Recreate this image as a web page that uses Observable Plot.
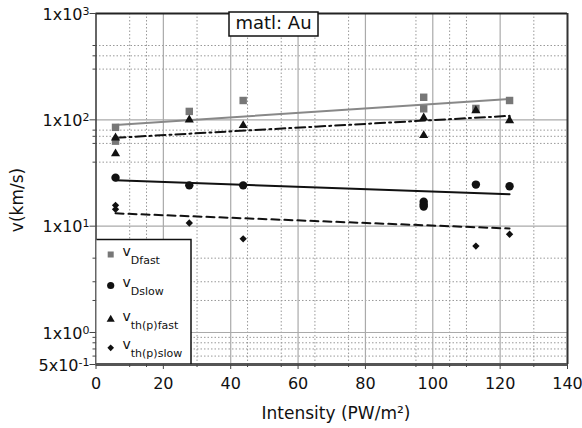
<!DOCTYPE html>
<html><head><meta charset="utf-8">
<script src="https://cdn.jsdelivr.net/npm/d3@7"></script>
<script src="https://cdn.jsdelivr.net/npm/@observablehq/plot@0.6"></script>
<style>body{margin:0;background:#fff} #chart{width:582px;height:428px}</style>
</head><body><div id="chart"></div>
<script>
const FONT = "DejaVu Sans, Verdana, sans-serif";

const xTicks = [0, 20, 40, 60, 80, 100, 120, 140];
const xGridMajor = [20, 40, 60, 80, 100, 120];
const xGridMinor = [10, 15, 30, 45, 55, 65, 75, 95, 105, 110, 130];
const yTicks = [0.5, 1, 10, 100, 1000];
const yTickLabels = ["5x10^-1", "1x10^0", "1x10^1", "1x10^2", "1x10^3"];
const yGridMajor = [1, 10, 100];
const yGridMinor = [0.6, 0.7, 0.8, 0.9, 2, 3, 5, 40, 60, 70, 80, 300, 400, 500];

const dFastX = [5.8, 5.8, 27.7, 43.7, 97.3, 97.3, 112.8, 122.8];
const dFastV = [85, 63, 120, 152, 163, 127, 128, 152];
const dSlowX = [5.8, 27.7, 43.7, 97.3, 97.3, 97.3, 112.8, 122.8];
const dSlowV = [28.6, 24.2, 24.2, 17, 16, 15.3, 24.6, 23.7];
const thFastX = [5.8, 5.8, 27.7, 43.7, 97.3, 97.3, 112.8, 122.8];
const thFastV = [67.8, 48, 100, 88.5, 104.5, 71.3, 122, 98.5];
const thSlowX = [5.8, 5.8, 27.7, 43.7, 112.8, 122.8];
const thSlowV = [15.7, 14.4, 10.7, 7.6, 6.5, 8.4];

const fitX = [5.8, 122.8];
const fitDFast = [89.6, 157];
const fitDSlow = [27, 20];
const fitThSlow = [13.2, 9.5];
const fitThFastX = [5.8, 122.8, 122.8];
const fitThFastV = [67.8, 109, 99];

const legendLabels = ["Dfast", "Dslow", "th(p)fast", "th(p)slow"];
const titleText = "matl: Au";
const xLabel = "Intensity (PW/m²)";
const yLabel = "v(km/s)";

const pts = (xs, vs) => xs.map((x, i) => ({x, v: vs[i]}));

const chart = Plot.plot({
  width: 582, height: 428,
  marginLeft: 95.5, marginRight: 15, marginTop: 13, marginBottom: 64,
  style: {fontFamily: FONT, fontSize: "16px", color: "#111", background: "white"},
  x: {domain: [0, 140]},
  y: {type: "log", domain: [0.5, 1000]},
  marks: [
    Plot.ruleX(xGridMinor, {stroke: "#999", strokeWidth: 1, strokeDasharray: "1.5,2"}),
    Plot.ruleY(yGridMinor, {stroke: "#999", strokeWidth: 1, strokeDasharray: "1.5,2"}),
    Plot.ruleX(xGridMajor, {stroke: "#aaa", strokeWidth: 1.2}),
    Plot.ruleY(yGridMajor, {stroke: "#aaa", strokeWidth: 1.2}),
    Plot.line(pts(fitX, fitDFast), {x: "x", y: "v", stroke: "#888", strokeWidth: 2}),
    Plot.line(pts(fitX, fitDSlow), {x: "x", y: "v", stroke: "#111", strokeWidth: 2}),
    Plot.line(pts(fitX, fitThSlow), {x: "x", y: "v", stroke: "#111", strokeWidth: 2, strokeDasharray: "8,5"}),
    Plot.line(pts(fitThFastX, fitThFastV), {x: "x", y: "v", stroke: "#111", strokeWidth: 2, strokeDasharray: "10,4,2,4"}),
    Plot.dot(pts(dFastX, dFastV), {x: "x", y: "v", symbol: "square", r: 4.2, fill: "#777", stroke: "none"}),
    Plot.dot(pts(dSlowX, dSlowV), {x: "x", y: "v", symbol: "circle", r: 4.2, fill: "#111", stroke: "none"}),
    Plot.dot(pts(thFastX, thFastV), {x: "x", y: "v", symbol: "triangle", r: 3.4, fill: "#111", stroke: "none"}),
    Plot.dot(pts(thSlowX, thSlowV), {x: "x", y: "v", symbol: "diamond2", r: 3.3, fill: "#111", stroke: "none"}),
    Plot.ruleY([1000], {stroke: "#222", strokeWidth: 2}),
    Plot.ruleX([140], {stroke: "#333", strokeWidth: 2}),
    Plot.ruleX([0], {stroke: "#333", strokeWidth: 1.5}),
    Plot.ruleY([0.5], {stroke: "#555", strokeWidth: 3}),
    Plot.axisX(xTicks, {tickSize: 5, tickPadding: 8, fontSize: 16, label: null, stroke: "#444", fill: "#111"}),
    Plot.axisX(xGridMinor, {tickSize: 3, tickFormat: () => "", label: null, stroke: "#444"}),
    Plot.axisY(yTicks, {tickSize: 6, tickFormat: () => "", label: null, stroke: "#444"}),
    Plot.axisY(yGridMinor, {tickSize: 3, tickFormat: () => "", label: null, stroke: "#444"}),
    Plot.text(yTicks, {x: () => 0, y: (d) => d, text: (d) => yTickLabels[yTicks.indexOf(d)],
      textAnchor: "end", dx: -6.5, dy: 1, fontSize: 16, fill: "#111"})
  ]
});
document.getElementById("chart").appendChild(chart);

const svg = d3.select(chart);
// superscripts on y tick labels
svg.selectAll("text").each(function () {
  const s = this.textContent;
  if (!s.includes("^")) return;
  const [b, e] = s.split("^");
  const t = d3.select(this);
  t.text(null);
  t.append("tspan").text(b);
  t.append("tspan").attr("dy", "-0.45em").attr("font-size", "11px").text(e);
});

const over = svg.append("g").attr("text-anchor", "start");
// title box
over.append("rect").attr("x", 229).attr("y", 12).attr("width", 89).attr("height", 24)
  .attr("fill", "white").attr("stroke", "#111").attr("stroke-width", 1.5);
over.append("text").attr("x", 273.5).attr("y", 28.5).attr("text-anchor", "middle")
  .attr("font-family", FONT).attr("font-size", 18).attr("fill", "#111").text(titleText);

// legend
const L = {x: 96.5, y: 239.5, w: 94.5, h: 123.5};
over.append("rect").attr("x", L.x).attr("y", L.y).attr("width", L.w).attr("height", L.h).attr("fill", "white");
over.append("path").attr("d", `M${L.x},${L.y}H${L.x + L.w}V${L.y + L.h + 1}`)
  .attr("fill", "none").attr("stroke", "#111").attr("stroke-width", 1.5);
const legSym = [
  {type: d3.symbolSquare, size: Math.PI * 3.4 * 3.4, fill: "#777"},
  {type: d3.symbolCircle, size: Math.PI * 3.6 * 3.6, fill: "#111"},
  {type: d3.symbolTriangle, size: Math.PI * 3.0 * 3.0, fill: "#111"},
  {type: d3.symbolDiamond2, size: Math.PI * 3.0 * 3.0, fill: "#111"}
];
const rowY = [15, 46, 80, 108.3];
legendLabels.forEach((lab, i) => {
  const cy = L.y + rowY[i];
  over.append("path").attr("transform", `translate(${L.x + 14.2},${cy})`)
    .attr("d", d3.symbol(legSym[i].type, legSym[i].size)()).attr("fill", legSym[i].fill);
  const t = over.append("text").attr("x", L.x + 26).attr("y", cy + 1.5).attr("text-anchor", "start")
    .attr("font-family", FONT).attr("font-size", 14).attr("fill", "#111");
  t.append("tspan").text("v");
  t.append("tspan").attr("dy", 8).attr("font-size", 11).text(lab);
});

// axis titles
over.append("text").attr("x", 336).attr("y", 419).attr("text-anchor", "middle")
  .attr("font-family", FONT).attr("font-size", 17).attr("fill", "#111").text(xLabel);
over.append("text").attr("transform", "translate(23,200) rotate(-90)").attr("text-anchor", "middle")
  .attr("font-family", FONT).attr("font-size", 17).attr("fill", "#111").text(yLabel);
</script></body></html>
